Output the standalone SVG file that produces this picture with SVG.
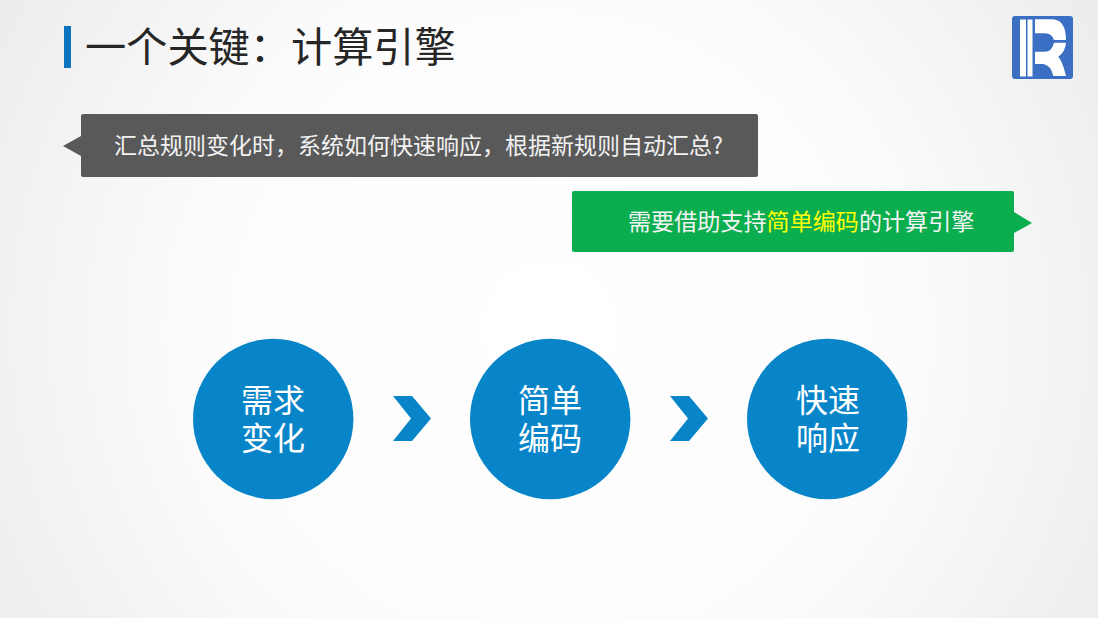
<svg xmlns="http://www.w3.org/2000/svg" width="1098" height="618" viewBox="0 0 1098 618">
<defs>
<radialGradient id="bg" gradientUnits="userSpaceOnUse" cx="549" cy="330" r="640">
<stop offset="0" stop-color="#ffffff"/><stop offset="0.55" stop-color="#fcfcfc"/><stop offset="1" stop-color="#ececec"/>
</radialGradient>
<style>
text{font-family:"Noto Sans CJK SC","Liberation Sans",sans-serif}
.circle{fill:#0885c9}
.ct{fill:#fff;font-size:32px;text-anchor:middle}
.chev{fill:#0885c9}
.logo{fill:#fff}
</style>
</defs>
<rect width="1098" height="618" fill="url(#bg)"/>
<g id="title">
<rect x="64" y="26" width="7" height="42" fill="#0b74bf"/>
<text x="85" y="62" font-size="41.2" fill="#262626">一个关键&#xFF1A;计算引擎</text>
</g>
<g id="logo">
<rect x="1012" y="16" width="61" height="63" rx="3" fill="#3b6fc4"/>
<rect class="logo" x="1020" y="19.5" width="6" height="57"/>
<rect class="logo" x="1027.5" y="19.5" width="5" height="57"/>
<path class="logo" d="M1035 19.3H1053.3Q1066 20.7 1066 40H1054Q1052 33.3 1045 33.3H1035Z"/>
<path class="logo" d="M1054 42.7H1066Q1065.3 51.7 1058.3 56.7Q1062.7 61.7 1066 76H1053.3Q1050.7 65 1043.3 64H1035V51.7H1045Q1051.7 51.7 1054 42.7Z"/>
</g>
<g id="question">
<path d="M83 114H756a2 2 0 0 1 2 2V175a2 2 0 0 1-2 2H83a2 2 0 0 1-2-2V156L63 146L81 136V116a2 2 0 0 1 2-2Z" fill="#595959"/>
<text x="114" y="154" font-size="23" fill="#f2f2f2">汇总规则变化时&#xFF0C;系统如何快速响应&#xFF0C;根据新规则自动汇总?</text>
</g>
<g id="answer">
<path d="M574 191H1012a2 2 0 0 1 2 2V212L1032 223L1014 233V250a2 2 0 0 1-2 2H574a2 2 0 0 1-2-2V193a2 2 0 0 1 2-2Z" fill="#0bae4f"/>
<text x="628" y="230" font-size="23.1" fill="#f4f4f4">需要借助支持<tspan fill="#ffff00">简单编码</tspan>的计算引擎</text>
</g>
<g id="node1">
<circle class="circle" cx="273.2" cy="419" r="80.2"/>
<text class="ct" x="273" y="412">需求<tspan x="273" dy="38">变化</tspan></text>
</g>
<g id="node2">
<circle class="circle" cx="550.2" cy="419" r="80.2"/>
<text class="ct" x="550" y="412">简单<tspan x="550" dy="38">编码</tspan></text>
</g>
<g id="node3">
<circle class="circle" cx="827.2" cy="419" r="80.2"/>
<text class="ct" x="828" y="412">快速<tspan x="828" dy="38">响应</tspan></text>
</g>
<g id="connectors">
<path class="chev" d="M393 396H412L431 418.5L412 441H393L411 418.5Z"/>
<path class="chev" d="M670 396H689L708 418.5L689 441H670L688 418.5Z"/>
</g>
</svg>
